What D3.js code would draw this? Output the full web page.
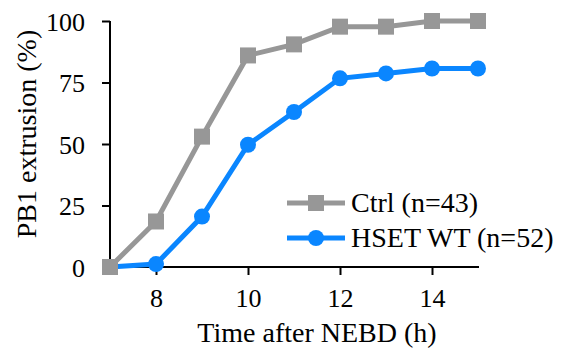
<!DOCTYPE html>
<html><head><meta charset="utf-8">
<script src="https://cdn.jsdelivr.net/npm/d3@7"></script>
<style>body{margin:0;background:#fff}svg{display:block}text{font-family:"Liberation Serif","Times New Roman",serif;fill:#000}</style>
</head><body>
<svg id="c" width="561" height="352"></svg>
<script>
const hours = [7, 8, 9, 10, 11, 12, 13, 14, 15];
const ctrl = [0, 18.5, 53, 86, 90.5, 97.7, 97.7, 100, 100];
const hset = [0, 1.2, 20.5, 49.7, 63, 76.7, 78.7, 80.7, 80.7];
const xTicks = [8, 10, 12, 14];
const yTicks = [0, 25, 50, 75, 100];
const seriesNames = ["Ctrl (n=43)", "HSET WT (n=52)"];
const colors = ["#979797", "#0a86ff"];

const svg = d3.select("#c");
const x = d3.scaleLinear().domain([7, 15]).range([110, 478]);
const y = d3.scaleLinear().domain([0, 100]).range([267, 21]);

const xa = svg.append("g").attr("transform", "translate(0,267)")
  .call(d3.axisBottom(x).tickValues(xTicks).tickSize(8).tickPadding(14).tickSizeOuter(0));
const ya = svg.append("g").attr("transform", "translate(110,0)")
  .call(d3.axisLeft(y).tickValues(yTicks).tickSize(8).tickPadding(17).tickSizeOuter(0));
[xa, ya].forEach(a => {
  a.attr("font-family", null);
  a.selectAll("path,line").attr("stroke", "#000").attr("stroke-width", 2);
  a.selectAll("text").style("font-size", "26px").attr("fill", "#000");
});
xa.select(".domain").attr("d", "M108,0H479");
ya.select(".domain").attr("d", "M0,268V21");
ya.selectAll("text").attr("dy", "0.35em");

svg.append("text").attr("x", 317).attr("y", 342).attr("text-anchor", "middle")
  .style("font-size", "28px").text("Time after NEBD (h)");
svg.append("text").attr("transform", "translate(36,134) rotate(-90)").attr("text-anchor", "middle")
  .style("font-size", "28px").text("PB1 extrusion (%)");

const data = [ctrl, hset];
const line = d3.line().x((d, i) => x(hours[i])).y(d => y(d));
[1, 0].forEach(k => {
  svg.append("path").datum(data[k]).attr("d", line).attr("fill", "none")
    .attr("stroke", colors[k]).attr("stroke-width", 5);
});
svg.append("g").selectAll("circle").data(hset).join("circle")
  .attr("cx", (d, i) => x(hours[i])).attr("cy", d => y(d)).attr("r", 8).attr("fill", colors[1]);
svg.append("g").selectAll("rect").data(ctrl).join("rect")
  .attr("x", (d, i) => x(hours[i]) - 8).attr("y", d => y(d) - 8).attr("width", 16).attr("height", 16).attr("fill", colors[0]);

// legend
const leg = svg.append("g");
const rows = [203, 238];
seriesNames.forEach((name, k) => {
  const g = leg.append("g").attr("transform", `translate(0,${rows[k]})`);
  g.append("line").attr("x1", 287).attr("x2", 345).attr("stroke", colors[k]).attr("stroke-width", 5);
  if (k === 0) g.append("rect").attr("x", 308).attr("y", -8).attr("width", 16).attr("height", 16).attr("fill", colors[k]);
  else g.append("circle").attr("cx", 316).attr("r", 8).attr("fill", colors[k]);
  g.append("text").attr("x", 351).attr("dy", "0.33em").style("font-size", "28px").text(name);
});
</script>
</body></html>
